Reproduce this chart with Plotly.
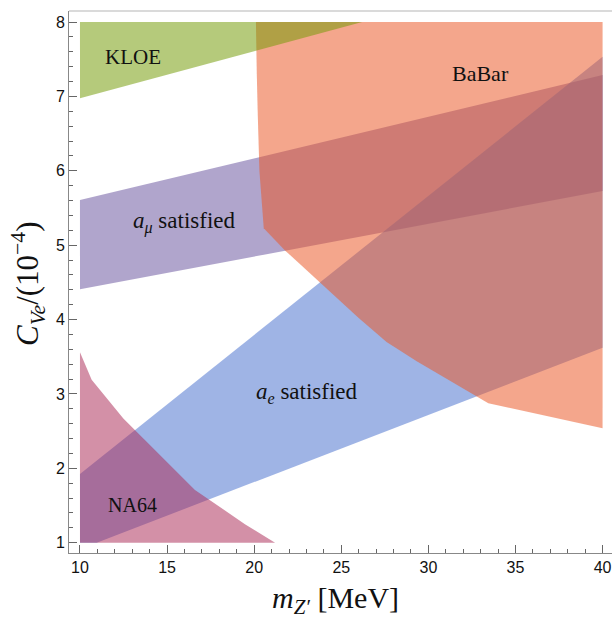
import plotly.graph_objects as go

# Excluded / allowed regions in the (m_Z' [MeV], C_Ve / 1e-4) plane
kloe_x = [10.0, 26.2, 10.0]
kloe_y = [8.0, 8.0, 6.974]

babar_x = [20.1, 40.0, 40.0, 33.44, 29.33, 27.6, 26.0, 24.93, 21.77, 20.55, 20.42, 20.3, 20.2, 20.15]
babar_y = [8.0, 8.0, 2.54, 2.874, 3.44, 3.7, 4.02, 4.25, 4.93, 5.226, 5.6, 6.0, 6.8, 7.3]

amu_x = [10.0, 40.0, 40.0, 10.0]
amu_y = [5.607, 7.287, 5.728, 4.406]

ae_x = [10.0, 40.0, 40.0, 10.96, 10.0]
ae_y = [1.923, 7.533, 3.62, 1.0, 1.0]

na64_x = [10.0, 10.67, 12.49, 16.6, 19.47, 21.2, 10.0]
na64_y = [3.56, 3.19, 2.67, 1.71, 1.25, 1.0, 1.0]

labels = ["KLOE", "BaBar", "<i>a</i><sub><i>μ</i></sub> satisfied",
          "<i>a</i><sub><i>e</i></sub> satisfied", "NA64"]
label_x = [13.05, 33.0, 15.97, 23.03, 13.04]
label_y = [7.53, 7.31, 5.31, 3.01, 1.507]
label_size = [21, 22, 23, 23, 20]

x_ticks = [10, 15, 20, 25, 30, 35, 40]
y_ticks = [1, 2, 3, 4, 5, 6, 7, 8]

ALPHA = 0.53
regions = [
    (amu_x, amu_y, (106, 85, 159)),
    (ae_x, ae_y, (74, 113, 206)),
    (babar_x, babar_y, (234, 87, 38)),
    (kloe_x, kloe_y, (115, 155, 6)),
    (na64_x, na64_y, (172, 46, 89)),
]

fig = go.Figure()
for xs, ys, (r, g, b) in regions:
    fig.add_trace(go.Scatter(
        x=xs, y=ys, mode="lines", fill="toself",
        fillcolor=f"rgba({r},{g},{b},{ALPHA})",
        line=dict(width=0, color="rgba(0,0,0,0)"),
        hoverinfo="skip", showlegend=False,
    ))

serif = "Liberation Serif, Times New Roman, serif"
for t, x, y, s in zip(labels, label_x, label_y, label_size):
    fig.add_annotation(x=x, y=y, xref="x", yref="y", text=t, showarrow=False,
                       xanchor="center", yanchor="middle",
                       font=dict(family=serif, size=s, color="#111"))

# axis titles
fig.add_annotation(x=0.4917, y=-0.0867, xref="paper", yref="paper",
                   xanchor="center", yanchor="middle",
                   text="<i>m</i><sub><i>Z′</i></sub> [MeV]", showarrow=False,
                   font=dict(family=serif, size=30, color="#111"))
fig.add_annotation(x=-0.0755, y=0.4963, xref="paper", yref="paper",
                   xanchor="center", yanchor="middle",
                   text="<i>C</i><sub><i>Ve</i></sub>/(10<sup>−4</sup>)", showarrow=False,
                   textangle=-90, font=dict(family=serif, size=31, color="#111"))

# light frame line along the top edge
fig.add_shape(type="line", xref="paper", yref="paper", x0=0, x1=1, y0=1, y1=1,
              line=dict(color="#b5b5b5", width=1))

tickfont = dict(family="Liberation Sans, Arial, sans-serif", size=16, color="#111")
fig.update_xaxes(range=[9.37, 40.54], tickvals=x_ticks, ticks="inside", ticklen=8,
                 tickcolor="#666", showline=True, linecolor="#888", linewidth=1,
                 showgrid=False, zeroline=False, tickfont=tickfont,
                 minor=dict(dtick=1, tick0=10, ticks="inside", ticklen=4,
                            tickcolor="#666", showgrid=False))
fig.update_yaxes(range=[0.862, 8.148], tickvals=y_ticks, ticks="inside", ticklen=8,
                 tickcolor="#666", showline=True, linecolor="#888", linewidth=1,
                 showgrid=False, zeroline=False, tickfont=tickfont,
                 minor=dict(dtick=0.2, tick0=1, ticks="inside", ticklen=4,
                            tickcolor="#666", showgrid=False))

fig.update_layout(width=612, height=622,
                  margin=dict(l=69, r=0, t=11, b=69),
                  paper_bgcolor="white", plot_bgcolor="white")

fig.write_html("out.html")
